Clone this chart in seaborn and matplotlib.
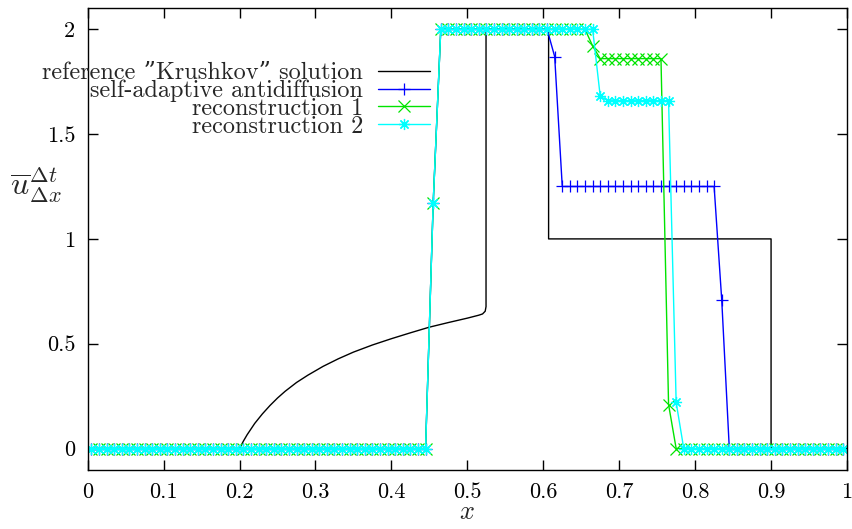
import numpy as np
import pandas as pd
import matplotlib
matplotlib.use("Agg")
import matplotlib.pyplot as plt
import seaborn as sns

# 100-cell mesh on [0, 1]: values are plotted at the cell centres
x_cells = np.linspace(0.005, 0.995, 100)

# cell averages of the three schemes
u_antidiff = [0.0] * 45 + [1.17] + [2.0] * 15 + [1.87] + [1.25] * 21 + [0.71] + [0.0] * 16
u_rec1 = [0.0] * 45 + [1.17] + [2.0] * 20 + [1.92] + [1.86] * 9 + [0.21] + [0.0] * 23
u_rec2 = [0.0] * 45 + [1.17] + [2.0] * 21 + [1.68] + [1.66] * 9 + [0.22] + [0.0] * 22

# reference entropy solution (rarefaction, shocks and plateaus)
x_ref = [0.0, 0.2, 0.205, 0.21, 0.22, 0.23, 0.24, 0.25, 0.26, 0.275, 0.29,
         0.31, 0.33, 0.35, 0.375, 0.40, 0.425, 0.45, 0.475, 0.50, 0.515,
         0.52, 0.5235, 0.5246, 0.5246, 0.607, 0.607, 0.9, 0.9, 1.0]
u_ref = [0.0, 0.0, 0.035, 0.066, 0.12, 0.165, 0.205, 0.241, 0.273, 0.315, 0.350,
         0.392, 0.428, 0.460, 0.494, 0.524, 0.552, 0.579, 0.601, 0.622, 0.636,
         0.642, 0.655, 0.677, 2.0, 2.0, 1.0, 1.0, 0.0, 0.0]

labels = ["reference \u201dKrushkov\u201d solution", "self-adaptive antidiffusion",
          "reconstruction 1", "reconstruction 2"]
x_ticks = [0, 0.1, 0.2, 0.3, 0.4, 0.5, 0.6, 0.7, 0.8, 0.9, 1.0]
x_tick_labels = ["0", "0.1", "0.2", "0.3", "0.4", "0.5", "0.6", "0.7", "0.8", "0.9", "1"]
y_ticks = [0, 0.5, 1, 1.5, 2]
y_tick_labels = ["0", "0.5", "1", "1.5", "2"]

sns.set_theme(style="ticks")
serif = ["cmr10", "DejaVu Serif"]
plt.rcParams["font.family"] = serif
plt.rcParams["mathtext.fontset"] = "cm"
plt.rcParams["axes.formatter.use_mathtext"] = True
plt.rcParams["axes.unicode_minus"] = False

TICK_FS = 16
LEG_FS = 17.5

fig = plt.figure(figsize=(8.53, 5.29), dpi=100)
ax = fig.add_axes([87.7 / 853, 1 - 469.5 / 529, (847 - 87.7) / 853, (469.5 - 8.3) / 529])

ref_df = pd.DataFrame({"x": x_ref, "u": u_ref})
sns.lineplot(data=ref_df, x="x", y="u", ax=ax, color="black", lw=1.0,
             estimator=None, sort=False, label=labels[0])

schemes = [
    (u_antidiff, "#0000ff", "+", labels[1]),
    (u_rec1, "#00e400", "x", labels[2]),
    (u_rec2, "#00ffff", (8, 2, 0), labels[3]),
]
for vals, col, mk, lab in schemes:
    df = pd.DataFrame({"x": x_cells, "u": vals})
    sns.lineplot(data=df, x="x", y="u", ax=ax, color=col, lw=1.0,
                 marker=mk, markersize=8, markeredgewidth=0.9,
                 markeredgecolor=col, markerfacecolor=col,
                 estimator=None, sort=False, label=lab)

ax.set_xlim(0, 1)
ax.set_ylim(-0.1, 2.1)
ax.set_xticks(x_ticks)
ax.set_xticklabels(x_tick_labels)
ax.set_yticks(y_ticks)
ax.set_yticklabels(y_tick_labels)
ax.tick_params(direction="in", length=7, width=1.0, top=True, right=True,
               labelsize=TICK_FS, pad=9, colors="black")
for sp in ax.spines.values():
    sp.set_visible(True)
    sp.set_linewidth(1.0)
    sp.set_color("black")

ax.set_xlabel(r"$x$", fontsize=19, labelpad=-1)
ax.set_ylabel(r"$\overline{u}^{\Delta t}_{\Delta x}$", fontsize=23,
              rotation=0, ha="center", va="center")
ax.yaxis.set_label_coords(-0.068, 0.617)

leg = ax.legend(loc="upper right", bbox_to_anchor=(430 / 853, 1 - 62 / 529),
                bbox_transform=fig.transFigure, frameon=False, markerfirst=False,
                alignment="right", prop={"family": serif, "size": LEG_FS},
                handlelength=2.15, handletextpad=0.6, labelspacing=-0.18,
                borderpad=0, borderaxespad=0)

fig.savefig("out.png", dpi=100)
